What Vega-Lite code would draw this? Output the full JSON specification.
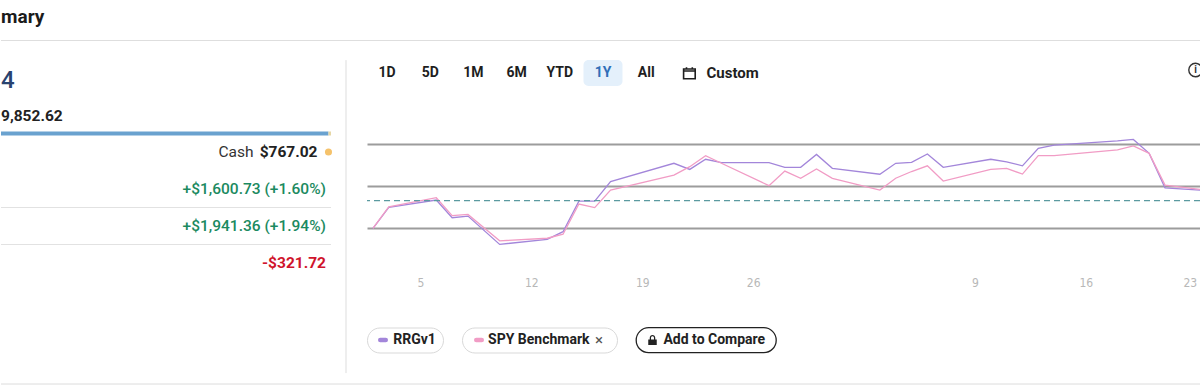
{
  "$schema": "https://vega.github.io/schema/vega-lite/v6.json",
  "padding": 0,
  "background": "white",
  "spacing": 0,
  "resolve": {"scale": {"color": "independent"}},
  "config": {
    "view": {"stroke": null},
    "font": "Roboto",
    "text": {"font": "Roboto"}
  },
  "vconcat": [
    {
      "width": 1200,
      "height": 40.5,
      "data": {"values": [{"title": "mary"}]},
      "layer": [
        {
          "mark": {"type": "text", "align": "left", "baseline": "middle", "fontSize": 19, "fontWeight": "bold", "color": "#1b1b1b", "dy": -3},
          "encoding": {
            "text": {"field": "title"},
            "x": {"datum": 0, "type": "quantitative", "scale": {"domain": [0, 1]}, "axis": null}
          }
        },
        {
          "mark": {"type": "rule", "color": "#dedede", "strokeWidth": 1},
          "encoding": {
            "y": {"datum": 0, "type": "quantitative", "scale": {"domain": [0, 1]}, "axis": null}
          }
        }
      ]
    },
    {
      "spacing": 12,
      "resolve": {"scale": {"color": "independent"}},
      "hconcat": [
        {
          "width": 330,
          "height": 259,
          "encoding": {
            "y": {"field": "slot", "type": "nominal", "scale": {"type": "point", "domain": ["top1", "top2", "big", "gap1", "value", "bar", "cash", "gap2", "r1", "sep1", "r2", "sep2", "r3", "end1", "end2"], "padding": 0}, "axis": null}
          },
          "layer": [
            {
              "data": {"values": [{"slot": "bar", "part": "Invested", "amount": 99852.62}, {"slot": "bar", "part": "Cash", "amount": 767.02}]},
              "mark": {"type": "bar", "size": 4},
              "encoding": {
                "x": {"field": "amount", "type": "quantitative", "stack": "zero", "scale": {"domain": [0, 100619.64], "nice": false}, "axis": null},
                "color": {"field": "part", "type": "nominal", "scale": {"domain": ["Invested", "Cash"], "range": ["#6aa2cf", "#e6d7a6"]}, "legend": null},
                "order": {"field": "part", "sort": "descending"}
              }
            },
            {
              "data": {"values": [{"slot": "sep1"}, {"slot": "sep2"}]},
              "mark": {"type": "rule", "color": "#e2e2e2", "strokeWidth": 1},
              "encoding": {}
            },
            {
              "data": {"values": [{"slot": "cash"}]},
              "mark": {"type": "point", "filled": true, "opacity": 1, "color": "#f5c26b", "size": 50},
              "encoding": {
                "x": {"datum": 99852.62, "type": "quantitative", "scale": {"domain": [0, 100619.64], "nice": false}, "axis": null}
              }
            },
            {
              "data": {"values": [{"slot": "cash", "label": "$767.02"}]},
              "mark": {"type": "text", "align": "right", "baseline": "middle", "fontSize": 15.5, "fontWeight": "bold", "color": "#222222", "dx": -11},
              "encoding": {
                "text": {"field": "label"},
                "x": {"datum": 99852.62, "type": "quantitative", "scale": {"domain": [0, 100619.64], "nice": false}, "axis": null}
              }
            },
            {
              "data": {"values": [{"slot": "cash", "label": "Cash"}]},
              "mark": {"type": "text", "align": "right", "baseline": "middle", "fontSize": 15.5, "color": "#333333", "dx": -75},
              "encoding": {
                "text": {"field": "label"},
                "x": {"datum": 99852.62, "type": "quantitative", "scale": {"domain": [0, 100619.64], "nice": false}, "axis": null}
              }
            },
            {
              "data": {"values": [{"slot": "r1", "label": "+$1,600.73 (+1.60%)"}, {"slot": "r2", "label": "+$1,941.36 (+1.94%)"}]},
              "mark": {"type": "text", "align": "right", "baseline": "middle", "fontSize": 15.5, "fontWeight": 500, "color": "#1b8a60", "dx": -2.5},
              "encoding": {
                "text": {"field": "label"},
                "x": {"datum": 99852.62, "type": "quantitative", "scale": {"domain": [0, 100619.64], "nice": false}, "axis": null}
              }
            },
            {
              "data": {"values": [{"slot": "r3", "label": "-$321.72"}]},
              "mark": {"type": "text", "align": "right", "baseline": "middle", "fontSize": 15.5, "fontWeight": "bold", "color": "#d0142c", "dx": -2.5},
              "encoding": {
                "text": {"field": "label"},
                "x": {"datum": 99852.62, "type": "quantitative", "scale": {"domain": [0, 100619.64], "nice": false}, "axis": null}
              }
            },
            {
              "data": {"values": [{"slot": "big", "label": "4"}]},
              "mark": {"type": "text", "align": "left", "baseline": "middle", "fontSize": 24, "fontWeight": 500, "color": "#28436f", "dy": 3},
              "encoding": {
                "text": {"field": "label"},
                "x": {"datum": 0, "type": "quantitative", "scale": {"domain": [0, 100619.64], "nice": false}, "axis": null}
              }
            },
            {
              "data": {"values": [{"slot": "value", "label": "9,852.62"}]},
              "mark": {"type": "text", "align": "left", "baseline": "middle", "fontSize": 15.5, "fontWeight": "bold", "color": "#222222", "dy": 1},
              "encoding": {
                "text": {"field": "label"},
                "x": {"datum": 0, "type": "quantitative", "scale": {"domain": [0, 100619.64], "nice": false}, "axis": null}
              }
            }
          ]
        },
        {
          "width": 8,
          "height": 342,
          "data": {"values": [{"divider": "panel"}]},
          "mark": {"type": "rule", "color": "#dddddd", "strokeWidth": 1},
          "encoding": {
            "x": {"datum": 0, "type": "quantitative", "scale": {"domain": [0, 1]}, "axis": null},
            "y": {"datum": 0.944, "type": "quantitative", "scale": {"domain": [0, 1]}, "axis": null},
            "y2": {"datum": 0.029}
          }
        },
        {
          "spacing": 38.5,
          "vconcat": [
            {
              "spacing": 0,
              "vconcat": [
                {
                  "width": 833,
                  "height": 64,
                  "resolve": {"scale": {"x": "independent"}},
                  "layer": [
                    {
                      "encoding": {
                        "x": {"field": "btn", "type": "nominal", "scale": {"type": "point", "domain": ["1D", "5D", "1M", "6M", "YTD", "1Y", "All", "cal", "Custom", "s10", "s11", "s12", "s13", "s14", "s15", "s16", "s17", "s18", "s19"], "padding": 0.641, "align": 0.361}, "axis": null}
                      },
                      "layer": [
                        {
                          "data": {"values": [{"btn": "1Y"}]},
                          "mark": {"type": "point", "shape": "M-0.56,-0.5H0.56A0.19,0.19 0 0 1 0.75,-0.31V0.31A0.19,0.19 0 0 1 0.56,0.5H-0.56A0.19,0.19 0 0 1 -0.75,0.31V-0.31A0.19,0.19 0 0 1 -0.56,-0.5Z", "size": 2704, "filled": true, "fill": "#e4f0fb", "opacity": 1, "strokeWidth": 0}
                        },
                        {
                          "data": {"values": [{"btn": "1D"}, {"btn": "5D"}, {"btn": "1M"}, {"btn": "6M"}, {"btn": "YTD"}, {"btn": "All"}]},
                          "mark": {"type": "text", "baseline": "middle", "fontSize": 14, "fontWeight": "bold", "color": "#1e1e1e"},
                          "encoding": {"text": {"field": "btn"}}
                        },
                        {
                          "data": {"values": [{"btn": "Custom"}]},
                          "mark": {"type": "text", "baseline": "middle", "fontSize": 15, "fontWeight": "bold", "color": "#1e1e1e"},
                          "encoding": {"text": {"field": "btn"}}
                        },
                        {
                          "data": {"values": [{"btn": "1Y"}]},
                          "mark": {"type": "text", "baseline": "middle", "fontSize": 14, "fontWeight": "bold", "color": "#2f6fb8"},
                          "encoding": {"text": {"field": "btn"}}
                        },
                        {
                          "data": {"values": [{"btn": "cal"}]},
                          "mark": {"type": "point", "shape": "M-1,-0.7H1V1H-1Z M-1,-0.35H1 M-0.5,-1V-0.6 M0.5,-1V-0.6", "size": 135, "filled": false, "stroke": "#1e1e1e", "strokeWidth": 1.6, "opacity": 1}
                        }
                      ]
                    },
                    {
                      "data": {"values": [{"icon": "i"}]},
                      "encoding": {
                        "x": {"datum": 1, "type": "quantitative", "scale": {"domain": [0, 1]}, "axis": null}
                      },
                      "layer": [
                        {
                          "mark": {"type": "point", "shape": "circle", "size": 180, "filled": false, "stroke": "#333333", "strokeWidth": 1.4, "opacity": 1, "xOffset": -4.5, "yOffset": -3, "clip": true}
                        },
                        {
                          "mark": {"type": "text", "baseline": "middle", "fontSize": 10, "fontWeight": "bold", "color": "#333333", "dx": -4.5, "dy": -3},
                          "encoding": {"text": {"field": "icon"}}
                        }
                      ]
                    }
                  ]
                },
                {
                  "width": 833,
                  "height": 155,
                  "layer": [
                    {
                      "data": {"values": [
                        {"date": "2025-01-02", "series": "RRGv1", "v": 0.0},
                        {"date": "2025-01-03", "series": "RRGv1", "v": 0.99},
                        {"date": "2025-01-06", "series": "RRGv1", "v": 1.34},
                        {"date": "2025-01-07", "series": "RRGv1", "v": 0.5},
                        {"date": "2025-01-08", "series": "RRGv1", "v": 0.58},
                        {"date": "2025-01-10", "series": "RRGv1", "v": -0.76},
                        {"date": "2025-01-13", "series": "RRGv1", "v": -0.52},
                        {"date": "2025-01-14", "series": "RRGv1", "v": -0.16},
                        {"date": "2025-01-15", "series": "RRGv1", "v": 1.29},
                        {"date": "2025-01-16", "series": "RRGv1", "v": 1.29},
                        {"date": "2025-01-17", "series": "RRGv1", "v": 2.21},
                        {"date": "2025-01-21", "series": "RRGv1", "v": 3.08},
                        {"date": "2025-01-22", "series": "RRGv1", "v": 2.79},
                        {"date": "2025-01-23", "series": "RRGv1", "v": 3.27},
                        {"date": "2025-01-24", "series": "RRGv1", "v": 3.11},
                        {"date": "2025-01-27", "series": "RRGv1", "v": 3.11},
                        {"date": "2025-01-28", "series": "RRGv1", "v": 2.89},
                        {"date": "2025-01-29", "series": "RRGv1", "v": 2.89},
                        {"date": "2025-01-30", "series": "RRGv1", "v": 3.5},
                        {"date": "2025-01-31", "series": "RRGv1", "v": 2.84},
                        {"date": "2025-02-03", "series": "RRGv1", "v": 2.56},
                        {"date": "2025-02-04", "series": "RRGv1", "v": 3.08},
                        {"date": "2025-02-05", "series": "RRGv1", "v": 3.12},
                        {"date": "2025-02-06", "series": "RRGv1", "v": 3.52},
                        {"date": "2025-02-07", "series": "RRGv1", "v": 2.89},
                        {"date": "2025-02-10", "series": "RRGv1", "v": 3.27},
                        {"date": "2025-02-11", "series": "RRGv1", "v": 3.15},
                        {"date": "2025-02-12", "series": "RRGv1", "v": 2.96},
                        {"date": "2025-02-13", "series": "RRGv1", "v": 3.79},
                        {"date": "2025-02-14", "series": "RRGv1", "v": 3.94},
                        {"date": "2025-02-18", "series": "RRGv1", "v": 4.14},
                        {"date": "2025-02-19", "series": "RRGv1", "v": 4.21},
                        {"date": "2025-02-20", "series": "RRGv1", "v": 3.55},
                        {"date": "2025-02-21", "series": "RRGv1", "v": 1.92},
                        {"date": "2025-02-24", "series": "RRGv1", "v": 1.77},
                        {"date": "2025-01-02", "series": "SPY Benchmark", "v": 0.0},
                        {"date": "2025-01-03", "series": "SPY Benchmark", "v": 1.02},
                        {"date": "2025-01-06", "series": "SPY Benchmark", "v": 1.45},
                        {"date": "2025-01-07", "series": "SPY Benchmark", "v": 0.6},
                        {"date": "2025-01-08", "series": "SPY Benchmark", "v": 0.66},
                        {"date": "2025-01-10", "series": "SPY Benchmark", "v": -0.59},
                        {"date": "2025-01-13", "series": "SPY Benchmark", "v": -0.47},
                        {"date": "2025-01-14", "series": "SPY Benchmark", "v": -0.28},
                        {"date": "2025-01-15", "series": "SPY Benchmark", "v": 1.15},
                        {"date": "2025-01-16", "series": "SPY Benchmark", "v": 0.98},
                        {"date": "2025-01-17", "series": "SPY Benchmark", "v": 1.81},
                        {"date": "2025-01-21", "series": "SPY Benchmark", "v": 2.52},
                        {"date": "2025-01-22", "series": "SPY Benchmark", "v": 2.92},
                        {"date": "2025-01-23", "series": "SPY Benchmark", "v": 3.44},
                        {"date": "2025-01-24", "series": "SPY Benchmark", "v": 3.08},
                        {"date": "2025-01-27", "series": "SPY Benchmark", "v": 2.02},
                        {"date": "2025-01-28", "series": "SPY Benchmark", "v": 2.71},
                        {"date": "2025-01-29", "series": "SPY Benchmark", "v": 2.37},
                        {"date": "2025-01-30", "series": "SPY Benchmark", "v": 2.81},
                        {"date": "2025-01-31", "series": "SPY Benchmark", "v": 2.37},
                        {"date": "2025-02-03", "series": "SPY Benchmark", "v": 1.81},
                        {"date": "2025-02-04", "series": "SPY Benchmark", "v": 2.37},
                        {"date": "2025-02-05", "series": "SPY Benchmark", "v": 2.69},
                        {"date": "2025-02-06", "series": "SPY Benchmark", "v": 2.96},
                        {"date": "2025-02-07", "series": "SPY Benchmark", "v": 2.24},
                        {"date": "2025-02-10", "series": "SPY Benchmark", "v": 2.79},
                        {"date": "2025-02-11", "series": "SPY Benchmark", "v": 2.84},
                        {"date": "2025-02-12", "series": "SPY Benchmark", "v": 2.57},
                        {"date": "2025-02-13", "series": "SPY Benchmark", "v": 3.44},
                        {"date": "2025-02-14", "series": "SPY Benchmark", "v": 3.44},
                        {"date": "2025-02-18", "series": "SPY Benchmark", "v": 3.71},
                        {"date": "2025-02-19", "series": "SPY Benchmark", "v": 3.9},
                        {"date": "2025-02-20", "series": "SPY Benchmark", "v": 3.55},
                        {"date": "2025-02-21", "series": "SPY Benchmark", "v": 2.05},
                        {"date": "2025-02-24", "series": "SPY Benchmark", "v": 1.77}
                      ]},
                      "mark": {"type": "line", "clip": true, "strokeWidth": 1.3},
                      "encoding": {
                        "x": {
                          "field": "date",
                          "type": "temporal",
                          "scale": {"type": "utc", "domain": [{"year": 2025, "month": 1, "date": 1, "hours": 15, "utc": true}, {"year": 2025, "month": 2, "date": 23, "hours": 5, "utc": true}]},
                          "axis": {
                            "values": [
                              {"year": 2025, "month": 1, "date": 5, "utc": true},
                              {"year": 2025, "month": 1, "date": 12, "utc": true},
                              {"year": 2025, "month": 1, "date": 19, "utc": true},
                              {"year": 2025, "month": 1, "date": 26, "utc": true},
                              {"year": 2025, "month": 2, "date": 9, "utc": true},
                              {"year": 2025, "month": 2, "date": 16, "utc": true},
                              {"year": 2025, "month": 2, "date": 23, "utc": true}
                            ],
                            "labelExpr": "utcFormat(datum.value, '%-d')",
                            "domain": false,
                            "ticks": false,
                            "tickSize": 0,
                            "grid": false,
                            "labelPadding": 17,
                            "labelColor": "#b8b8b8",
                            "labelFont": "DejaVu Sans Condensed, Roboto, sans-serif",
                            "labelFontSize": 12,
                            "labelFlush": 6,
                            "labelOverlap": false,
                            "title": null
                          }
                        },
                        "y": {
                          "field": "v",
                          "type": "quantitative",
                          "scale": {"domain": [-1.5, 5.84], "nice": false, "zero": false},
                          "axis": {"values": [0, 2, 4], "grid": true, "gridColor": "#9c9c9c", "gridWidth": 2, "domain": false, "ticks": false, "labels": false, "title": null}
                        },
                        "color": {"field": "series", "type": "nominal", "scale": {"domain": ["RRGv1", "SPY Benchmark"], "range": ["#a386da", "#f19cc5"]}, "legend": null}
                      }
                    },
                    {
                      "data": {"values": [{"baseline": 1.31}]},
                      "mark": {"type": "rule", "color": "#5b9aa0", "strokeDash": [6, 4], "strokeWidth": 1.2},
                      "encoding": {
                        "y": {"field": "baseline", "type": "quantitative", "scale": {"domain": [-1.5, 5.84], "nice": false, "zero": false}}
                      }
                    }
                  ]
                }
              ]
            },
            {
              "spacing": 17,
              "hconcat": [
                {
                  "width": 76,
                  "height": 25,
                  "view": {"stroke": "#d9d9d9", "strokeWidth": 1, "cornerRadius": 12.5},
                  "data": {"values": [{"series": "RRGv1"}]},
                  "layer": [
                    {
                      "mark": {"type": "point", "shape": "M-1,0H1", "size": 30, "filled": false, "strokeWidth": 4.5, "strokeCap": "round", "opacity": 1, "xOffset": -22},
                      "encoding": {"color": {"field": "series", "type": "nominal", "scale": {"domain": ["RRGv1", "SPY Benchmark"], "range": ["#a386da", "#f19cc5"]}, "legend": null}}
                    },
                    {
                      "mark": {"type": "text", "baseline": "middle", "fontSize": 14, "fontWeight": "bold", "color": "#222222", "dx": 9.5},
                      "encoding": {"text": {"field": "series"}}
                    }
                  ]
                },
                {
                  "width": 155,
                  "height": 25,
                  "view": {"stroke": "#d9d9d9", "strokeWidth": 1, "cornerRadius": 12.5},
                  "data": {"values": [{"series": "SPY Benchmark", "close": "×"}]},
                  "layer": [
                    {
                      "mark": {"type": "point", "shape": "M-1,0H1", "size": 30, "filled": false, "strokeWidth": 4.5, "strokeCap": "round", "opacity": 1, "xOffset": -60.5},
                      "encoding": {"color": {"field": "series", "type": "nominal", "scale": {"domain": ["RRGv1", "SPY Benchmark"], "range": ["#a386da", "#f19cc5"]}, "legend": null}}
                    },
                    {
                      "mark": {"type": "text", "baseline": "middle", "fontSize": 14, "fontWeight": "bold", "color": "#222222", "dx": -0.7},
                      "encoding": {"text": {"field": "series"}}
                    },
                    {
                      "mark": {"type": "text", "baseline": "middle", "fontSize": 15, "color": "#555555", "dx": 59.5},
                      "encoding": {"text": {"field": "close"}}
                    }
                  ]
                },
                {
                  "width": 140,
                  "height": 25,
                  "view": {"stroke": "#222222", "strokeWidth": 1.3, "cornerRadius": 12.5},
                  "data": {"values": [{"action": "Add to Compare"}]},
                  "layer": [
                    {
                      "mark": {"type": "point", "shape": "M-1,-0.1H1V1.2H-1Z M-0.65,-0.1V-0.55A0.65,0.65 0 0 1 0.65,-0.55V-0.1H0.35V-0.55A0.35,0.35 0 0 0 -0.35,-0.55V-0.1Z", "size": 72, "filled": true, "color": "#222222", "opacity": 1, "xOffset": -53.5}
                    },
                    {
                      "mark": {"type": "text", "baseline": "middle", "fontSize": 14, "fontWeight": "bold", "color": "#222222", "dx": 8.3},
                      "encoding": {"text": {"field": "action"}}
                    }
                  ]
                }
              ]
            }
          ]
        }
      ]
    },
    {
      "width": 1200,
      "height": 8,
      "data": {"values": [{"edge": 1}]},
      "mark": {"type": "rule", "color": "#dcdcdc", "strokeWidth": 1},
      "encoding": {
        "y": {"field": "edge", "type": "quantitative", "scale": {"domain": [0, 1]}, "axis": null}
      }
    }
  ]
}
